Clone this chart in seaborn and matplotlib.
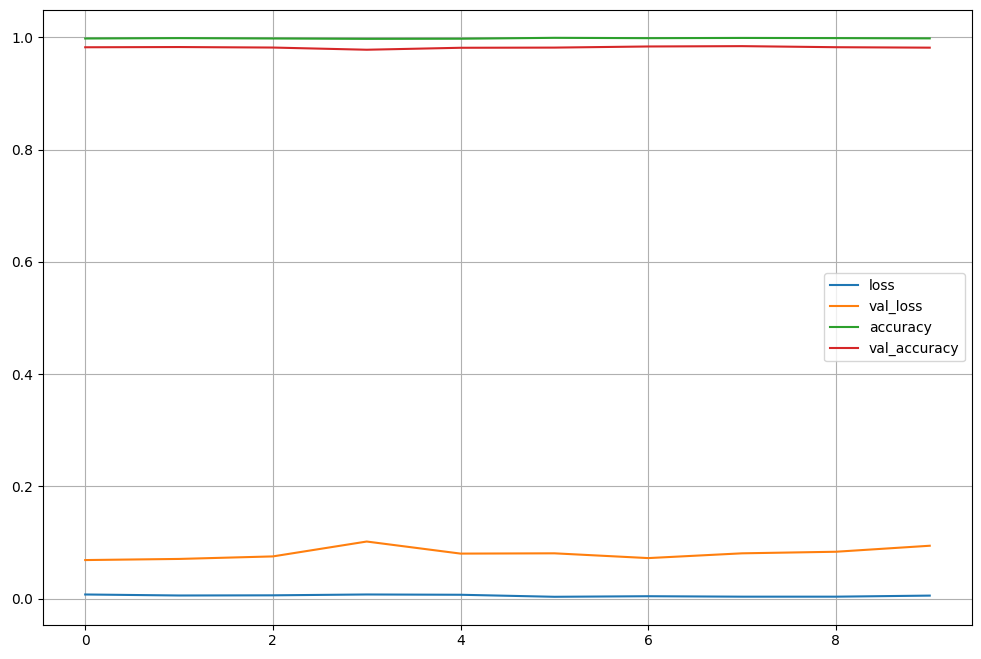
import numpy as np
import pandas as pd
import matplotlib
matplotlib.use("Agg")
import matplotlib.pyplot as plt
import seaborn as sns

epochs = list(range(10))
loss = [0.0077, 0.0059, 0.0062, 0.0077, 0.0072, 0.0036, 0.0046, 0.0038, 0.0038, 0.0057]
val_loss = [0.069, 0.071, 0.0755, 0.102, 0.0805, 0.081, 0.0725, 0.081, 0.0838, 0.0945]
accuracy = [0.9978, 0.9985, 0.9978, 0.9972, 0.9974, 0.9990, 0.9984, 0.9988, 0.9985, 0.9980]
val_accuracy = [0.9822, 0.9826, 0.9817, 0.9778, 0.9813, 0.9816, 0.9836, 0.9842, 0.9823, 0.9815]

df = pd.DataFrame({"loss": loss, "val_loss": val_loss,
                   "accuracy": accuracy, "val_accuracy": val_accuracy}, index=epochs)
long = df.reset_index().melt(id_vars="index", var_name="metric", value_name="value")

fig = plt.figure(figsize=(9.81, 6.59), dpi=100)
ax = fig.add_axes([0.0438, 0.052, 0.947, 0.933])
sns.lineplot(data=long, x="index", y="value", hue="metric",
             palette=["#1f77b4", "#ff7f0e", "#2ca02c", "#d62728"], ax=ax)
ax.set_xlabel("")
ax.set_ylabel("")
ax.grid(True)
ax.legend(loc="center right")
fig.savefig("out.png", dpi=100)
